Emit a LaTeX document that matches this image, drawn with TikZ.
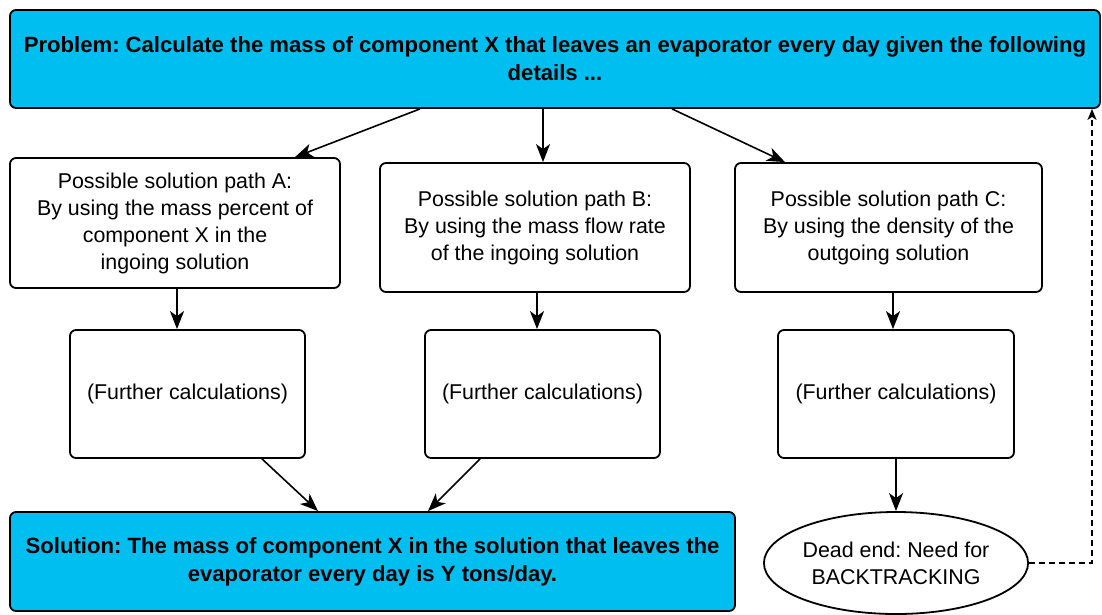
\documentclass[tikz,border=0pt]{standalone}
\usepackage{fontspec}
\setmainfont{Liberation Sans}
\frenchspacing
\usetikzlibrary{arrows.meta,shapes.geometric}
\definecolor{boxcyan}{RGB}{0,190,240}
\tikzset{
  box/.style={draw=black, line width=1.8pt, rounded corners=6pt, align=center, inner sep=0pt, font=\fontsize{21.4}{27}\selectfont},
  bluebox/.style={box, fill=boxcyan, font=\fontsize{22.1}{28}\selectfont\bfseries},
  arr/.style={line width=1.6pt, -{Stealth[length=18pt,width=14pt,inset=5pt]}},
  dasharr/.style={line width=1.4pt, dash pattern=on 6pt off 4pt, -{Stealth[length=11pt,width=9pt,inset=3pt]}}
}
\begin{document}
\begin{tikzpicture}[x=1pt,y=-1pt]
\useasboundingbox (0,0) rectangle (1102,614);
\fill[white] (0,0) rectangle (1102,614);
\node[bluebox, minimum width=1090pt, minimum height=98pt] (top) at (555,59)
  {Problem: Calculate the mass of component X that leaves an evaporator every day given the following\\details ...};
\node[box, minimum width=330pt, minimum height=130pt] (A) at (175,223)
  {Possible solution path A:\\By using the mass percent of\\component X in the\\ingoing solution};
\node[box, minimum width=310pt, minimum height=129pt] (B) at (535,227.5)
  {Possible solution path B:\\By using the mass flow rate\\of the ingoing solution};
\node[box, minimum width=307pt, minimum height=129pt] (C) at (888.5,227.5)
  {Possible solution path C:\\By using the density of the\\outgoing solution};
\node[box, minimum width=235pt, minimum height=128pt] (A2) at (187.5,394) {(Further calculations)};
\node[box, minimum width=235pt, minimum height=128pt] (B2) at (542.5,394) {(Further calculations)};
\node[box, minimum width=236pt, minimum height=128pt] (C2) at (896,394) {(Further calculations)};
\node[bluebox, minimum width=725pt, minimum height=99pt] (sol) at (372.5,561.5)
  {Solution: The mass of component X in the solution that leaves the\\evaporator every day is Y tons/day.};
\node[draw=black, line width=1.8pt, ellipse, minimum width=262pt, minimum height=102pt, inner sep=0pt, align=center, font=\fontsize{21.4}{27}\selectfont] (ell) at (896,563)
  {Dead end: Need for\\BACKTRACKING};

\draw[arr] ([xshift=-135pt]top.south) -- ([xshift=120pt]A.north);
\draw[arr] ([xshift=-12pt]top.south) -- ([xshift=8pt]B.north);
\draw[arr] ([xshift=117pt]top.south) -- ([xshift=-103.5pt]C.north);
\draw[arr] ([xshift=2pt]A.south) -- ([xshift=-10.5pt]A2.north);
\draw[arr] ([xshift=2pt]B.south) -- ([xshift=-5.5pt]B2.north);
\draw[arr] ([xshift=4.5pt]C.south) -- ([xshift=-3pt]C2.north);
\draw[arr] ([xshift=74.5pt]A2.south) -- ([xshift=-54.5pt]sol.north);
\draw[arr] ([xshift=-62.5pt]B2.south) -- ([xshift=55.5pt]sol.north);
\draw[arr] (C2.south) -- (ell.north);
\draw[dasharr] (ell.east) -| ([xshift=537pt]top.south);
\end{tikzpicture}
\end{document}
